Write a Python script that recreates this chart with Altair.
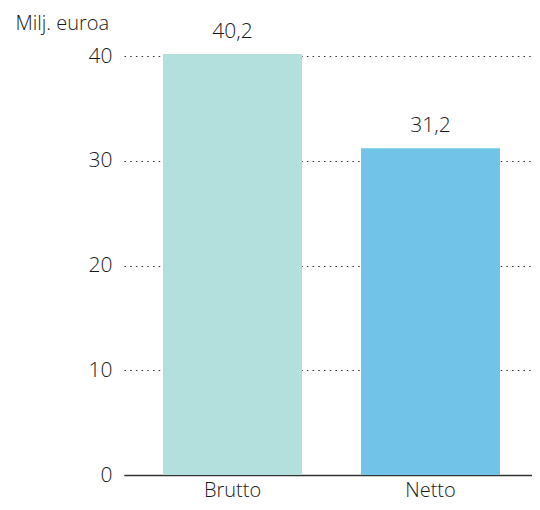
import altair as alt
import pandas as pd

categories = ["Brutto", "Netto"]
values = [40.2, 31.2]
colors = ["#b3dfdc", "#71c4e8"]
y_ticks = [0, 10, 20, 30, 40]

df = pd.DataFrame({
    "cat": categories,
    "val": values,
    "label": [f"{v:.1f}".replace(".", ",") for v in values],
})

FONT = "Open Sans"
TXT = "#1a1a1a"
FS = 21

base = alt.Chart(df).encode(
    x=alt.X("cat:N", sort=categories,
            scale=alt.Scale(paddingInner=0.298, paddingOuter=0.197, range=[0, 415]),
            axis=alt.Axis(title=None, labelAngle=0, labelFontSize=20, labelFont=FONT,
                          labelFontWeight=300,
                          labelColor=TXT, domainColor="#333333", domainWidth=1.5,
                          ticks=False, labelPadding=5)),
)

bars = base.mark_bar().encode(
    y=alt.Y("val:Q", scale=alt.Scale(domain=[0, 40], nice=False),
            axis=alt.Axis(values=y_ticks, title="Milj. euroa", titleAngle=0,
                          titleX=-109, titleY=-33, titleAlign="left",
                          titleBaseline="middle", titleFont=FONT, titleFontSize=20,
                          titleFontWeight=300, titleColor=TXT,
                          labelFont=FONT, labelFontSize=FS, labelFontWeight=300,
                          labelColor=TXT,
                          labelPadding=12, domain=False, ticks=False,
                          grid=True, gridDash=[1.5, 4.2], gridColor="#333333",
                          gridWidth=1)),
    color=alt.Color("cat:N", scale=alt.Scale(domain=categories, range=colors), legend=None),
)

labels = base.mark_text(baseline="alphabetic", dy=-16, fontSize=FS, font=FONT,
                        fontWeight=300, color=TXT).encode(
    y=alt.Y("val:Q"),
    text="label:N",
)

chart = (bars + labels).properties(
    width=407, height=419,
    autosize=alt.AutoSizeParams(type="none"),
    padding={"left": 116, "top": 48, "right": 1, "bottom": 27},
).configure_view(stroke=None)

chart.save("out.html", embed_options={"renderer": "svg", "actions": False})
